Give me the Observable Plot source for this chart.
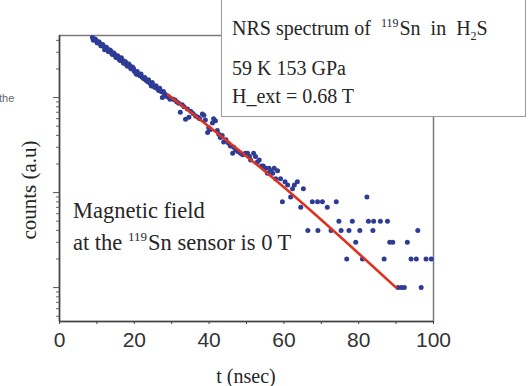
<!DOCTYPE html>
<html>
<head>
<meta charset="utf-8">
<script src="https://cdn.jsdelivr.net/npm/d3@7"></script>
<script src="https://cdn.jsdelivr.net/npm/@observablehq/plot@0.6"></script>
<style>
  html, body { margin: 0; padding: 0; background: #fff; }
  #wrap { position: relative; width: 529px; height: 386px; overflow: hidden;
          font-family: "Liberation Serif", "Times New Roman", serif; color: #262626; }
  #wrap svg { position: absolute; left: 0; top: 0; }
  .note { position: absolute; white-space: nowrap; font-size: 20px; line-height: 1; }
  .big { font-size: 22.5px; }
  .note sup { font-size: 12px; vertical-align: 0; position: relative; top: -8px; margin-right: 1px; }
  .big sup { font-size: 13px; top: -9px; }
  .note sub { font-size: 12px; vertical-align: 0; position: relative; top: 5px; }
  #box { position: absolute; left: 221px; top: -4px; width: 305px; height: 121px;
         background: #fff; border: 1.5px solid #9a9a9a; box-sizing: border-box; }
  #ylab { position: absolute; left: 29px; top: 190px; font-size: 21px; white-space: nowrap;
          transform: translate(-50%, -50%) rotate(-90deg); }
  #xlab { position: absolute; left: 246px; top: 366px; font-size: 20px; line-height: 1;
          transform: translateX(-50%); white-space: nowrap; }
  #frag { position: absolute; left: -1px; top: 92px; font: 11px "Liberation Sans", Arial, sans-serif; color: #666; }
</style>
</head>
<body>
<div id="wrap"></div>
<script>
// Measured decay counts: time bin (ns) and counts
const decayT = [
  8.8, 9.05, 9.3, 9.55, 9.8, 10.05, 10.3, 10.55, 10.8, 11.05, 11.3, 11.55, 11.8, 12.05, 12.3,
  12.55, 12.8, 13.05, 13.3, 13.55, 13.8, 14.05, 14.3, 14.55, 14.8, 15.05, 15.3, 15.55, 15.8,
  16.05, 16.3, 16.55, 16.8, 17.05, 17.3, 17.55, 17.8, 18.05, 18.3, 18.55, 18.8, 19.05, 19.3,
  19.55, 19.8, 20.05, 20.3, 20.55, 20.8, 21.05, 21.3, 21.55, 21.8, 22.05, 22.3, 22.55, 22.8,
  23.05, 23.3, 23.55, 23.8, 24.05, 24.3, 24.55, 24.8, 25.05, 25.3, 25.55, 25.8, 26.05, 26.3,
  26.55, 26.8, 27.05, 27.3, 27.5, 27.8, 28.05, 28.3, 28.55, 28.8, 29.05, 29.3, 29.55, 29.8,
  30.4, 30.9, 31.4, 31.9, 32.3, 32.8, 33.3, 33.7, 34.2, 34.6, 35.1, 35.7, 36.4, 37.0, 37.5,
  38.2, 38.6, 39.0, 39.6, 39.9, 40.4, 40.9, 41.2, 41.7, 42.2, 42.6, 43.0, 43.5, 43.9, 44.5,
  45.2, 45.7, 46.3, 46.6, 47.1, 47.7, 48.4, 49.0, 49.7, 50.3, 50.8, 51.1, 51.9, 52.4, 52.9,
  53.4, 54.0, 54.5, 55.1, 55.6, 56.0, 56.5, 57.0, 57.4, 57.8, 58.3, 59.1, 59.6, 60.3, 61.0,
  61.8, 62.3, 62.8, 63.6, 64.5, 65.2,
  66.4, 67.6, 69.0, 69.1, 70.3, 71.6, 72.6, 74.0, 74.7, 75.3, 76.8, 77.4, 78.3, 79.2, 80.3,
  81.0, 82.2, 82.6, 83.8, 84.0, 85.8, 86.8, 87.7, 88.3, 89.1, 90.5, 91.4, 92.2, 93.0, 94.0,
  95.4, 95.8, 96.7, 98.0, 99.4
];
const decayCounts = [
  430, 402, 405, 414, 398, 378, 376, 386, 372, 352, 350, 362, 346, 318, 326,
  338, 324, 306, 303, 316, 305, 285, 284, 294, 282, 266, 262, 276, 266,
  248, 246, 262, 248, 232, 229, 240, 232, 216, 214, 225, 216, 202, 200,
  210, 202, 188, 186, 176, 188, 176, 173, 170, 177, 165, 162, 158, 163,
  154, 150, 148, 154, 143, 141, 132, 144, 134, 131, 128, 133, 126, 122,
  119, 125, 117, 115, 100, 116, 109, 108, 103, 104, 103, 100, 96, 98,
  96, 94, 90, 87, 70, 84, 80, 59, 76, 62, 72, 68, 64, 62, 60,
  67, 65, 58, 43, 48, 46, 54, 60, 57, 45, 41, 38, 40, 34, 36,
  33, 31, 26, 30, 28, 27, 26, 25, 26, 26, 24, 22, 26, 24, 21,
  22, 19, 19, 18, 16, 18, 17, 16, 18, 14, 17, 14, 8, 13, 12,
  9, 11, 12, 13, 7, 11,
  4, 8, 8, 4, 8, 7, 4, 8, 5, 4, 2, 4, 5, 3, 4,
  2, 9, 5, 4, 5, 5, 2, 5, 3, 3, 1, 1, 1, 3, 2,
  2, 4, 1, 2, 2
];

// Exponential fit, read at its start, middle and end
const fitT = [29, 59, 90];
const fitCounts = [107, 12.3, 1.0];

// Axis ticks
const xMajor = [0, 20, 40, 60, 80, 100];
const xMinor = [10, 30, 50, 70, 90];
const yDecades = [1, 10, 100];
const yMinor = [0.5, 0.6, 0.7, 0.8, 0.9, 2, 3, 4, 5, 6, 7, 8, 9,
                20, 30, 40, 50, 60, 70, 80, 90, 200, 300, 400];

const points = decayT.map((t, i) => ({t, c: decayCounts[i]}));
const fit = fitT.map((t, i) => ({t, c: fitCounts[i]}));

const chart = Plot.plot({
  width: 529,
  height: 386,
  marginLeft: 59,
  marginRight: 96,
  marginTop: 35,
  marginBottom: 65,
  style: {background: "#fff", fontFamily: "'Liberation Sans', Arial, sans-serif", fontSize: "21px", color: "#333"},
  x: {domain: [0, 100], label: null},
  y: {type: "log", domain: [0.44, 450], label: null},
  marks: [
    Plot.frame({stroke: "#7a7a7a", strokeWidth: 1.5}),
    Plot.axisX(xMajor, {tickSize: 3, tickPadding: 8, label: null, stroke: "#444"}),
    Plot.axisX(xMinor, {tickSize: 3, tickFormat: () => "", label: null, stroke: "#444"}),
    Plot.axisY(yDecades, {tickSize: 6, tickFormat: () => "", label: null, stroke: "#555"}),
    Plot.axisY(yMinor, {tickSize: 3, tickFormat: () => "", label: null, stroke: "#666"}),
    Plot.ruleX([0], {stroke: "#444", strokeWidth: 1.5}),
    Plot.ruleY([0.44], {stroke: "#444", strokeWidth: 1.5}),
    Plot.dot(points, {x: "t", y: "c", r: 2.5, fill: "#2e3c96", stroke: null}),
    Plot.line(fit, {x: "t", y: "c", curve: "natural", stroke: "#e2301f", strokeWidth: 2.6})
  ]
});

const wrap = document.getElementById("wrap");
wrap.appendChild(chart);

const html = `
  <div id="box">
    <div class="note" style="left:10px;top:21px;">NRS spectrum of&nbsp; <sup>119</sup>Sn&nbsp; in&nbsp; H<sub>2</sub>S</div>
    <div class="note" style="left:10px;top:61px;">59 K 153 GPa</div>
    <div class="note" style="left:10px;top:89px;">H_ext = 0.68 T</div>
  </div>
  <div class="note big" style="left:73px;top:200px;">Magnetic field</div>
  <div class="note big" style="left:73px;top:232px;">at the <sup>119</sup>Sn sensor is 0 T</div>
  <div id="ylab">counts (a.u)</div>
  <div id="xlab">t (nsec)</div>
  <div id="frag">the</div>
`;
wrap.insertAdjacentHTML("beforeend", html);
</script>
</body>
</html>
